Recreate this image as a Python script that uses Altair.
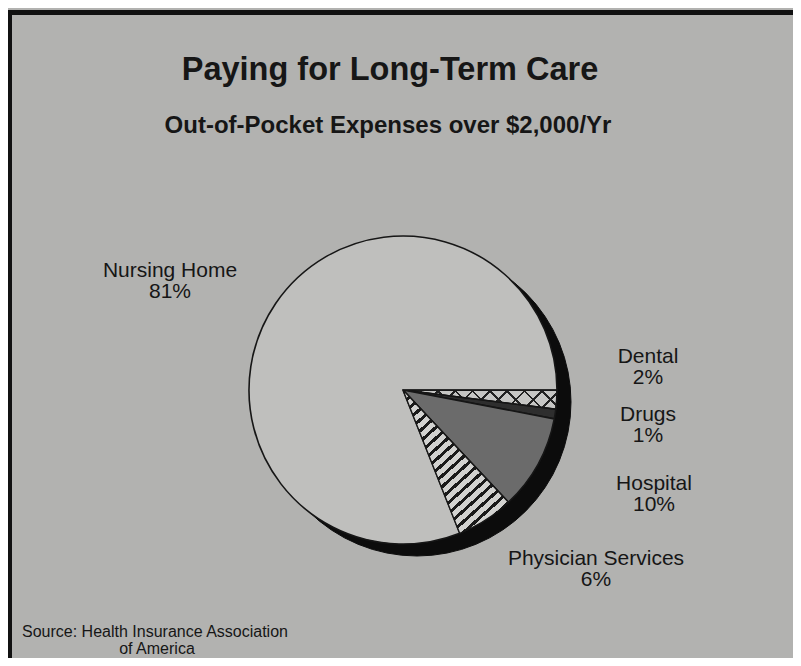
import math
import altair as alt
import pandas as pd

# ---------------- data ----------------
categories = ["Dental", "Drugs", "Hospital", "Physician Services", "Nursing Home"]
shares = [2, 1, 10, 6, 81]

label_names = ["Nursing Home", "Dental", "Drugs", "Hospital", "Physician Services"]
label_pcts = ["81%", "2%", "1%", "10%", "6%"]

title_text = "Paying for Long-Term Care"
subtitle_text = "Out-of-Pocket Expenses over $2,000/Yr"
source_lines = ["Source: Health Insurance Association", "of America"]

# ---------------- layout / style ----------------
W, H = 785, 650
CX, CY, R = 395, 382, 154
SHADOW_DX, SHADOW_DY = 14, 12
label_x = [162, 640, 640, 646, 588]
label_y = [269, 355, 413, 482, 557]
LINE_GAP = 21
BG = "#b2b2b0"
INK = "#161616"
FONT = "Liberation Sans"
slice_colors = ["#c6c6c4", "#2e2e2e", "#6b6b6b", "#cfcfcd", "#bfbfbd"]


def stripes(n, dark_frac, dark, light):
    stops = []
    for i in range(n):
        a = i / n
        b = (i + dark_frac) / n
        c = min((i + 1) / n, 1.0)
        stops += [
            {"offset": a, "color": dark},
            {"offset": b, "color": dark},
            {"offset": b, "color": light},
            {"offset": c, "color": light},
        ]
    return stops


phys_grad = {
    "gradient": "linear",
    "x1": 0, "y1": 0, "x2": 0.7653, "y2": 1.1554,
    "stops": stripes(22, 0.38, "#1a1a1a", "#d2d2d0"),
}
TR = "rgba(0,0,0,0)"
dental_grad1 = {
    "gradient": "linear",
    "x1": 0, "y1": 0, "x2": 1.1076, "y2": 0.1388,
    "stops": stripes(10, 0.14, "#222222", TR),
}
dental_grad2 = {
    "gradient": "linear",
    "x1": 0, "y1": 1, "x2": 1.1076, "y2": 0.8612,
    "stops": stripes(10, 0.14, "#222222", TR),
}

pie_df = pd.DataFrame({"cat": categories, "share": shares, "idx": list(range(len(categories)))})
lab_df = pd.DataFrame({"name": label_names, "pct": label_pcts, "lx": label_x, "ly": label_y})
one = pd.DataFrame({"k": [0]})

theta_scale = alt.Scale(domain=[0, 100], range=[math.pi / 2, math.pi / 2 + 2 * math.pi])

base = (
    alt.Chart(pie_df)
    .transform_window(cum="sum(share)", sort=[alt.SortField("idx")], frame=[None, 0])
    .transform_calculate(start="datum.cum - datum.share")
)

enc = dict(
    theta=alt.Theta("start:Q", scale=theta_scale),
    theta2=alt.Theta2("cum:Q"),
    x=alt.value(CX),
    y=alt.value(CY),
)

shadow = alt.Chart(one).mark_arc(
    radius=R, theta=0, theta2=2 * math.pi, fill="#0c0c0c", stroke="#0c0c0c"
).encode(x=alt.value(CX + SHADOW_DX), y=alt.value(CY + SHADOW_DY))

pie = base.mark_arc(radius=R, stroke=INK, strokeWidth=1.6).encode(
    fill=alt.Fill("cat:N", scale=alt.Scale(domain=categories, range=slice_colors), legend=None),
    **enc,
)

phys = base.transform_filter(alt.datum.cat == "Physician Services").mark_arc(
    radius=R, fill=phys_grad, stroke=INK, strokeWidth=1.2
).encode(**enc)

dental1 = base.transform_filter(alt.datum.cat == "Dental").mark_arc(
    radius=R, fill=dental_grad1, strokeWidth=0
).encode(**enc)
dental2 = base.transform_filter(alt.datum.cat == "Dental").mark_arc(
    radius=R, fill=dental_grad2, stroke=INK, strokeWidth=1.2
).encode(**enc)

frame_top = alt.Chart(one).mark_rect(color="#111111").encode(
    x=alt.value(0), x2=alt.value(W), y=alt.value(2), y2=alt.value(7)
)
frame_left = alt.Chart(one).mark_rect(color="#111111").encode(
    x=alt.value(0), x2=alt.value(4), y=alt.value(2), y2=alt.value(H)
)

title = alt.Chart(one).mark_text(
    text=title_text, font=FONT, fontSize=32.5, fontWeight="bold", color=INK,
    align="center", baseline="alphabetic"
).encode(x=alt.value(382), y=alt.value(72))
subtitle = alt.Chart(one).mark_text(
    text=subtitle_text, font=FONT, fontSize=24, fontWeight="bold", color=INK,
    align="center", baseline="alphabetic"
).encode(x=alt.value(380), y=alt.value(125))

names = alt.Chart(lab_df).mark_text(
    font=FONT, fontSize=21, color=INK, align="center", baseline="alphabetic"
).encode(
    x=alt.X("lx:Q", scale=None, axis=None),
    y=alt.Y("ly:Q", scale=None, axis=None),
    text="name:N",
)
pcts = alt.Chart(lab_df).transform_calculate(ly2=f"datum.ly + {LINE_GAP}").mark_text(
    font=FONT, fontSize=21, color=INK, align="center", baseline="alphabetic"
).encode(
    x=alt.X("lx:Q", scale=None, axis=None),
    y=alt.Y("ly2:Q", scale=None, axis=None),
    text="pct:N",
)

src1 = alt.Chart(one).mark_text(
    text=source_lines[0], font=FONT, fontSize=16, color=INK, align="center", baseline="alphabetic"
).encode(x=alt.value(147), y=alt.value(629))
src2 = alt.Chart(one).mark_text(
    text=source_lines[1], font=FONT, fontSize=16, color=INK, align="center", baseline="alphabetic"
).encode(x=alt.value(149), y=alt.value(646))

chart = alt.layer(
    frame_top, frame_left, shadow, pie, phys, dental1, dental2,
    title, subtitle, names, pcts, src1, src2
).properties(
    width=W, height=H, background=BG, padding=0,
    autosize=alt.AutoSizeParams(type="none"),
).configure_view(stroke=None)

chart.save("out.html", embed_options={"renderer": "svg", "actions": False})
